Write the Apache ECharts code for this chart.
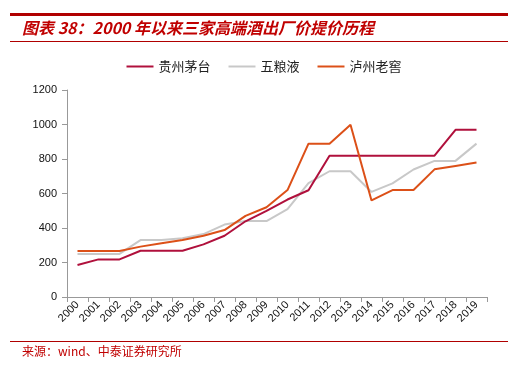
<!DOCTYPE html>
<html>
<head>
<meta charset="utf-8">
<script src="https://cdn.jsdelivr.net/npm/echarts@6/dist/echarts.min.js"></script>
<style>
html,body{margin:0;padding:0;background:#fff;}
#c{width:528px;height:376px;}
</style>
</head>
<body>
<div id="c"></div>
<script>
var years = ['2000','2001','2002','2003','2004','2005','2006','2007','2008','2009','2010','2011','2012','2013','2014','2015','2016','2017','2018','2019'];
var moutai = [185,218,218,268,268,268,305,355,439,499,565,619,819,819,819,819,819,819,969,969];
var wuliangye = [250,250,250,330,330,340,365,420,440,440,509,660,729,729,609,659,739,789,789,889];
var luzhou = [267,267,267,292,311,330,355,388,470,520,620,889,889,999,560,620,620,740,760,780];
var seriesNames = ['贵州茅台','五粮液','泸州老窖'];
var yTicks = [0,200,400,600,800,1000,1200];

var colors = ['#B0103C','#C8C8C8','#DC5018'];
var chart = echarts.init(document.getElementById('c'));
var cjk = '"Noto Sans CJK SC","Liberation Sans",sans-serif';
chart.setOption({
  animation:false,
  backgroundColor:'#fff',
  color:colors,
  graphic:[
    {type:'rect',shape:{x:10,y:13,width:498,height:3},style:{fill:'#B00000'}},
    {type:'text',left:22,top:20,style:{text:'图表 38：2000 年以来三家高端酒出厂价提价历程',font:'italic bold 16px '+cjk,fill:'#C00000'}},
    {type:'rect',shape:{x:10,y:41,width:498,height:1},style:{fill:'#B00000'}},
    {type:'rect',shape:{x:10,y:341,width:498,height:1},style:{fill:'#B00000'}},
    {type:'text',left:22,top:345,style:{text:'来源：wind、中泰证券研究所',font:'12px '+cjk,fill:'#C00000'}}
  ],
  legend:{
    top:55,left:'center',
    itemWidth:27,itemHeight:2,itemGap:18,
    icon:'rect',
    textStyle:{fontSize:13,color:'#222',fontFamily:'Noto Sans CJK SC'},
    data:seriesNames
  },
  grid:{left:67,right:41,top:90,bottom:79},
  xAxis:{
    type:'category',data:years,boundaryGap:true,
    axisLine:{lineStyle:{color:'#999'}},
    axisTick:{show:true,alignWithLabel:false,length:5,lineStyle:{color:'#999'}},
    axisLabel:{rotate:45,interval:0,fontSize:11,color:'#111',fontFamily:'Liberation Sans',margin:6}
  },
  yAxis:{
    type:'value',min:yTicks[0],max:yTicks[yTicks.length-1],interval:200,
    axisLine:{show:true,lineStyle:{color:'#999'}},
    axisTick:{show:true,length:5,lineStyle:{color:'#999'}},
    splitLine:{show:false},
    axisLabel:{fontSize:11,color:'#111',fontFamily:'Liberation Sans',margin:10,formatter:function(v){return String(v);}}
  },
  series:[
    {name:seriesNames[0],type:'line',data:moutai,symbol:'none',lineStyle:{width:2,color:colors[0]},z:3},
    {name:seriesNames[1],type:'line',data:wuliangye,symbol:'none',lineStyle:{width:2,color:colors[1]},z:2},
    {name:seriesNames[2],type:'line',data:luzhou,symbol:'none',lineStyle:{width:2,color:colors[2]},z:4}
  ]
});
</script>
</body>
</html>
